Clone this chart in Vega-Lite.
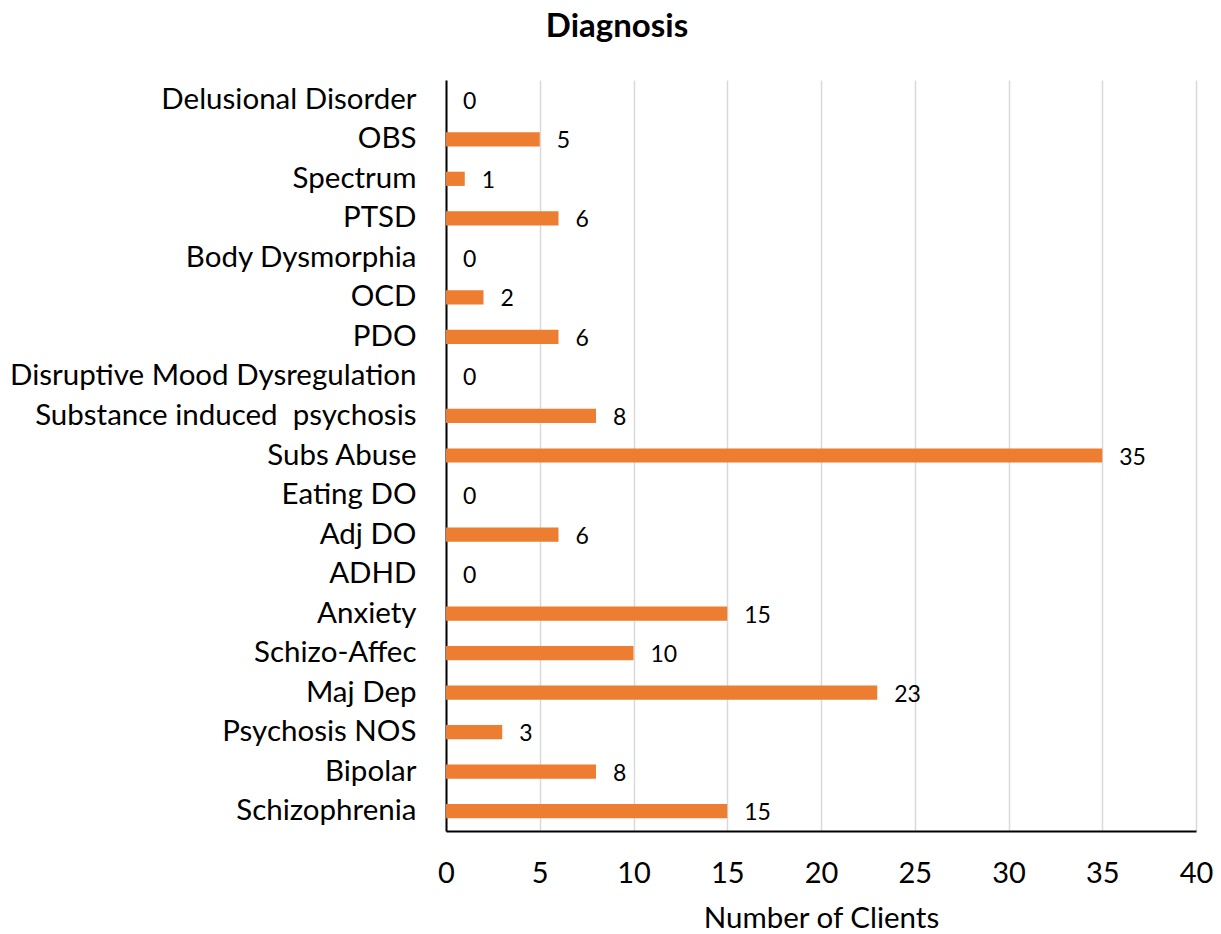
{
  "$schema": "https://vega.github.io/schema/vega-lite/v6.json",
  "width": 750,
  "height": 751,
  "autosize": {"type": "none"},
  "padding": {"left": 446, "top": 80, "right": 25, "bottom": 103},
  "background": "white",
  "title": {"text": "Diagnosis", "font": "Lato", "fontSize": 33, "fontWeight": "bold", "color": "black", "anchor": "middle", "dx": -204, "offset": 36},
  "config": {"view": {"stroke": null}, "font": "Lato"},
  "data": {"values": [
    {"diagnosis": "Delusional Disorder", "clients": 0},
    {"diagnosis": "OBS", "clients": 5},
    {"diagnosis": "Spectrum", "clients": 1},
    {"diagnosis": "PTSD", "clients": 6},
    {"diagnosis": "Body Dysmorphia", "clients": 0},
    {"diagnosis": "OCD", "clients": 2},
    {"diagnosis": "PDO", "clients": 6},
    {"diagnosis": "Disruptive Mood Dysregulation", "clients": 0},
    {"diagnosis": "Substance induced \u00a0psychosis", "clients": 8},
    {"diagnosis": "Subs Abuse", "clients": 35},
    {"diagnosis": "Eating DO", "clients": 0},
    {"diagnosis": "Adj DO", "clients": 6},
    {"diagnosis": "ADHD", "clients": 0},
    {"diagnosis": "Anxiety", "clients": 15},
    {"diagnosis": "Schizo-Affec", "clients": 10},
    {"diagnosis": "Maj Dep", "clients": 23},
    {"diagnosis": "Psychosis NOS", "clients": 3},
    {"diagnosis": "Bipolar", "clients": 8},
    {"diagnosis": "Schizophrenia", "clients": 15}
  ]},
  "encoding": {
    "y": {"field": "diagnosis", "type": "nominal", "sort": null,
      "scale": {"paddingInner": 0.64, "paddingOuter": 0.32},
      "axis": {"title": null, "ticks": false, "domainColor": "black", "domainWidth": 2, "labelFont": "Lato", "labelFontSize": 29.5, "labelColor": "black", "labelPadding": 30, "labelLimit": 500}},
    "x": {"field": "clients", "type": "quantitative",
      "scale": {"domain": [0, 40], "nice": false},
      "axis": {"title": "Number of Clients", "values": [0,5,10,15,20,25,30,35,40], "ticks": false, "labelFlush": false, "domainColor": "black", "domainWidth": 2, "grid": true, "gridColor": "#d9d9d9", "gridWidth": 1.5, "labelFont": "Lato", "labelFontSize": 29, "labelColor": "black", "labelPadding": 28, "titleFont": "Lato", "titleFontSize": 29.5, "titleFontWeight": "normal", "titleColor": "black", "titlePadding": 16}}
  },
  "layer": [
    {"mark": {"type": "bar", "color": "#ED7D31"}},
    {"mark": {"type": "text", "align": "left", "baseline": "middle", "dx": 17, "dy": 2, "fontSize": 23, "font": "Lato", "color": "black"},
     "encoding": {"text": {"field": "clients", "type": "quantitative"}}}
  ]
}
